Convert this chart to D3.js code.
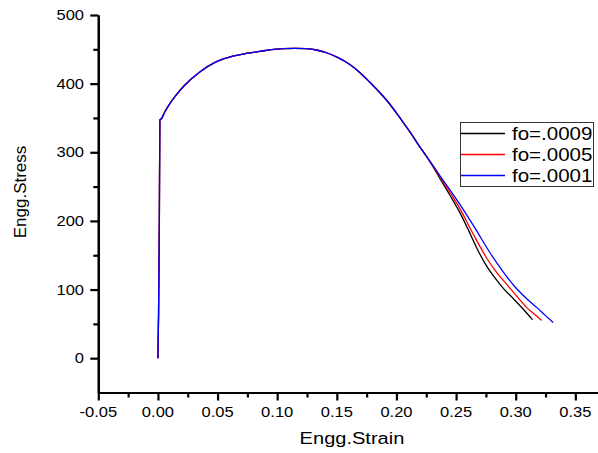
<!DOCTYPE html>
<html><head><meta charset="utf-8">
<script src="https://cdn.jsdelivr.net/npm/d3@7"></script>
<style>body{margin:0;background:#fff}svg{display:block}text{font-family:Arial,"Liberation Sans",sans-serif;fill:#000}</style>
</head><body><svg id="c" width="598" height="453"></svg>
<script>
// shared elastic + hardening part (strain, stress)
const commonStrain = [0.0000, 0.0005, 0.0012, 0.0016, 0.0030, 0.0058, 0.0100, 0.0142, 0.0226, 0.0351, 0.0491, 0.0628, 0.0740, 0.0855, 0.0950, 0.1047, 0.1150, 0.1246, 0.1330, 0.1414, 0.1510, 0.1609, 0.1695, 0.1777, 0.1860, 0.1945, 0.2030, 0.2112, 0.2180, 0.2252];
const commonStress = [0, 60, 200, 347, 349, 359, 371, 381, 398, 417, 432, 440, 444, 447, 449.5, 451, 451.5, 451, 449, 445, 438, 428, 416, 402, 387, 370, 350, 330, 312, 294];
// diverging tails per series
const tailStrain0009 = [0.2310, 0.2364, 0.2450, 0.2532, 0.2600, 0.2672, 0.2750, 0.2839, 0.2900, 0.2979, 0.3060, 0.3141];
const tailStress0009 = [278, 262, 237, 212, 188, 161, 136, 114, 101, 87, 72, 56];
const tailStrain0005 = [0.2310, 0.2364, 0.2450, 0.2532, 0.2640, 0.2756, 0.2840, 0.2923, 0.3010, 0.3091, 0.3150, 0.3217];
const tailStress0005 = [279, 264, 241, 218, 182, 146, 125, 108, 90, 74, 65, 55];
const tailStrain0001 = [0.2310, 0.2364, 0.2450, 0.2532, 0.2660, 0.2783, 0.2890, 0.2993, 0.3090, 0.3175, 0.3250, 0.3314];
const tailStress0001 = [280, 266, 245, 224, 189, 154, 127, 104, 87, 74, 62, 52];
const seriesNames = ["fo=.0009", "fo=.0005", "fo=.0001"];
const seriesColors = ["#000000", "#ff0000", "#0000ff"];
const xMajorTicks = [-0.05, 0.00, 0.05, 0.10, 0.15, 0.20, 0.25, 0.30, 0.35];
const xMinorTicks = [-0.025, 0.025, 0.075, 0.125, 0.175, 0.225, 0.275, 0.325];
const yMajorTicks = [0, 100, 200, 300, 400, 500];
const yMinorTicks = [50, 150, 250, 350, 450];
const xTitle = "Engg.Strain", yTitle = "Engg.Stress";

const tails = [[tailStrain0009, tailStress0009], [tailStrain0005, tailStress0005], [tailStrain0001, tailStress0001]];
const series = tails.map((t, i) => ({
  name: seriesNames[i], color: seriesColors[i],
  pts: commonStrain.map((s, j) => [s, commonStress[j]]).concat(t[0].map((s, j) => [s, t[1][j]]))
}));

const svg = d3.select("#c");
const x = d3.scaleLinear().domain([-0.05, 0.369]).range([98.3, 598]);
const y = d3.scaleLinear().domain([-50, 500]).range([392.5, 15]);
const SX = 1.18;
function txt(g, px, py, s, size, anchor, sx) {
  return g.append("text").attr("transform", `translate(${px},${py}) scale(${sx || SX},1)`)
    .attr("text-anchor", anchor || "start").style("font-size", size + "px").text(s);
}

// curves
const line = d3.line().x(d => x(d[0])).y(d => y(d[1])).curve(d3.curveMonotoneX);
svg.append("g").selectAll("path").data(series).join("path")
  .attr("d", d => line(d.pts)).attr("fill", "none").attr("stroke", d => d.color).attr("stroke-width", 1.3);

// x axis
const xg = svg.append("g").attr("transform", `translate(0,${y(-50)})`);
xg.call(d3.axisBottom(x).tickValues(xMinorTicks).tickSize(5).tickFormat("").tickSizeOuter(0));
xg.call(g => g.append("g").call(d3.axisBottom(x).tickValues(xMajorTicks).tickSize(8).tickFormat("").tickSizeOuter(0)));
xg.selectAll("path.domain").attr("stroke", "#000").attr("stroke-width", 2.2);
xg.selectAll("line").attr("stroke", "#000").attr("stroke-width", 2.2);
xMajorTicks.forEach(v => txt(svg, x(v), 417, d3.format(".2f")(v).replace("−", "-"), 14, "middle"));

// y axis
const yg = svg.append("g").attr("transform", `translate(${x(-0.05)},0)`);
yg.call(d3.axisLeft(y).tickValues(yMinorTicks).tickSize(5).tickFormat("").tickSizeOuter(0));
yg.call(g => g.append("g").call(d3.axisLeft(y).tickValues(yMajorTicks).tickSize(8).tickFormat("").tickSizeOuter(0)));
yg.selectAll("path.domain").attr("stroke", "#000").attr("stroke-width", 2.2);
yg.selectAll("line").attr("stroke", "#000").attr("stroke-width", 2.2);
yMajorTicks.forEach(v => txt(svg, 84, y(v) + 5, String(v), 14, "end"));

// titles
txt(svg, 352, 444, xTitle, 17, "middle");
svg.append("text").attr("transform", "translate(26,192) rotate(-90)").attr("text-anchor", "middle")
  .style("font-size", "17px").text(yTitle);

// legend
const lg = svg.append("g");
lg.append("rect").attr("x", 460.5).attr("y", 122.5).attr("width", 133).attr("height", 64)
  .attr("fill", "#fff").attr("stroke", "#333").attr("stroke-width", 1);
series.forEach((s, i) => {
  const ly = 133.5 + i * 21;
  lg.append("line").attr("x1", 461).attr("x2", 505).attr("y1", ly).attr("y2", ly)
    .attr("stroke", s.color).attr("stroke-width", 1.3);
  txt(lg, 512, ly + 6.5, s.name, 18, "start", 1.14);
});
</script></body></html>
